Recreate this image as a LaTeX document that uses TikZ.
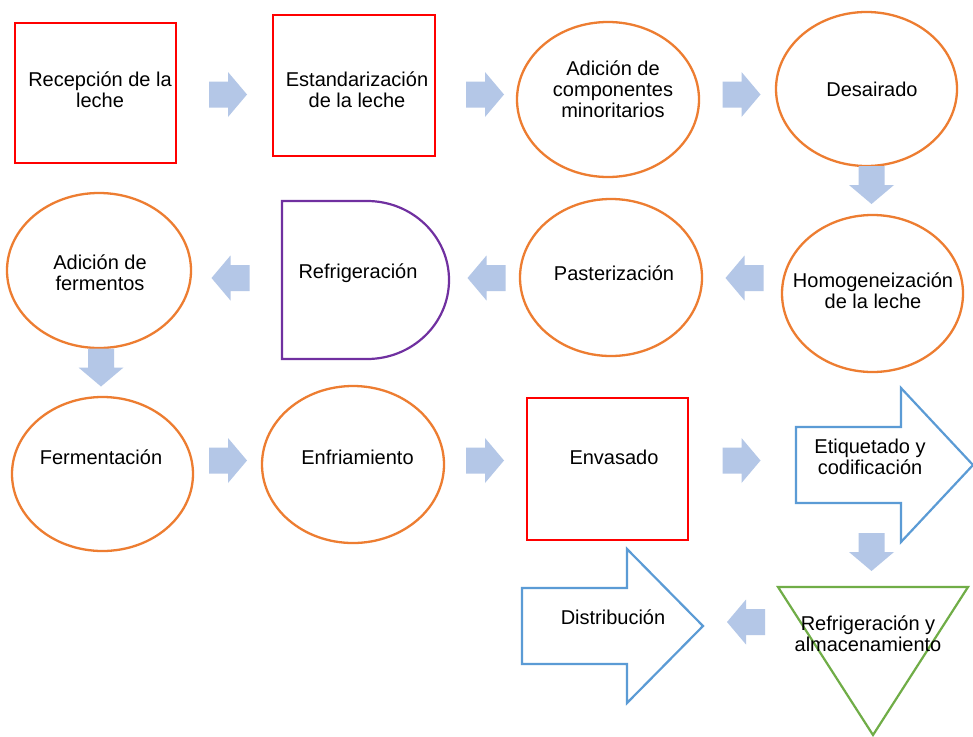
\documentclass[tikz,border=0pt]{standalone}
\usepackage{fontspec}
\setmainfont{Liberation Sans}
\usetikzlibrary{shapes.geometric}

\definecolor{boxred}{RGB}{255,0,0}
\definecolor{ovalorange}{RGB}{237,125,49}
\definecolor{dpurple}{RGB}{112,48,160}
\definecolor{arrowblue}{RGB}{91,155,213}
\definecolor{trigreen}{RGB}{112,173,71}
\definecolor{flowblue}{RGB}{180,199,231}

\tikzset{
  lbl/.style={font=\fontsize{20}{21}\selectfont, align=center, inner sep=0pt},
  redbox/.style={draw=boxred, line width=2.4pt, rectangle, inner sep=0pt},
  oval/.style={draw=ovalorange, line width=2.3pt, ellipse, inner sep=0pt},
  bigarrow/.style={draw=arrowblue, line width=2.2pt, line join=miter},
  flow/.pic={\fill[flowblue] (-19,-13) -- (0,-13) -- (0,-22.5) -- (19,0)
                 -- (0,22.5) -- (0,13) -- (-19,13) -- cycle;}
}

\begin{document}
\begin{tikzpicture}[x=1pt, y=-1pt]
\useasboundingbox[fill=white] (0,0) rectangle (973,736);

% ---- first row ----
\node[redbox, minimum width=161pt, minimum height=140pt] (rec) at (95.5,93) {};
\node[lbl] (recT) at (100,89.5) {Recepción de la\\leche};

\node[redbox, minimum width=162pt, minimum height=141pt] (est) at (354,85.5) {};
\node[lbl] (estT) at (357,90) {Estandarización\\de la leche};

\node[oval, minimum width=182pt, minimum height=155pt] (adc) at (608,99.5) {};
\node[lbl] (adcT) at (613,89.5) {Adición de\\componentes\\minoritarios};

\node[oval, minimum width=181pt, minimum height=154pt] (des) at (866.5,89) {};
\node[lbl] (desT) at (872,89) {Desairado};

% ---- second row ----
\node[oval, minimum width=181pt, minimum height=157pt] (hom) at (872.5,293.5) {};
\node[lbl] (homT) at (873,291) {Homogeneización\\de la leche};

\node[oval, minimum width=182pt, minimum height=157pt] (pas) at (611,277.5) {};
\node[lbl] (pasT) at (614,273) {Pasterización};

% delay-shaped step
\draw[draw=dpurple, line width=2.2pt] (282,201) -- (367,201)
  arc[start angle=90, end angle=-90, x radius=82pt, y radius=79pt]
  -- (282,359) -- cycle;
\node[lbl] (refT) at (358,273) {Refrigeración};

\node[oval, minimum width=184pt, minimum height=155pt] (fer) at (99,270.5) {};
\node[lbl] (ferT) at (100,272.5) {Adición de\\fermentos};

% ---- third row ----
\node[oval, minimum width=181pt, minimum height=154pt] (fmt) at (102.5,474) {};
\node[lbl] (fmtT) at (101,457) {Fermentación};

\node[oval, minimum width=182pt, minimum height=157pt] (enf) at (353,464.5) {};
\node[lbl] (enfT) at (357.5,457) {Enfriamiento};

\node[redbox, minimum width=161pt, minimum height=142pt] (env) at (607.5,469) {};
\node[lbl] (envT) at (614,457) {Envasado};

\draw[bigarrow] (796,427) -- (901,427) -- (901,388) -- (973,465)
  -- (901,542) -- (901,503) -- (796,503) -- cycle;
\node[lbl] (etqT) at (870,457) {Etiquetado y\\codificación};

% ---- fourth row ----
\draw[draw=trigreen, line width=2.2pt, line join=miter] (778,587) -- (968,587) -- (873,735) -- cycle;
\node[lbl] (almT) at (868,633.5) {Refrigeración y\\almacenamiento};

\draw[bigarrow] (522,588) -- (627,588) -- (627,549) -- (703,626)
  -- (627,703) -- (627,664) -- (522,664) -- cycle;
\node[lbl] (disT) at (613,617) {Distribución};

% ---- flow arrows between the steps ----
\pic at (228,94.5) {flow};
\pic at (485,94.5) {flow};
\pic at (741.5,94.5) {flow};
\pic[rotate=-90] at (871.5,185) {flow};
\pic[rotate=180] at (744.5,278) {flow};
\pic[rotate=180] at (486.5,278) {flow};
\pic[rotate=180] at (230.5,278) {flow};
\pic[rotate=-90] at (101,367.5) {flow};
\pic at (228,460.5) {flow};
\pic at (485,460.5) {flow};
\pic at (741.5,460.5) {flow};
\pic[rotate=-90] at (871.5,552) {flow};
\pic[rotate=180] at (746,622) {flow};
\end{tikzpicture}
\end{document}
